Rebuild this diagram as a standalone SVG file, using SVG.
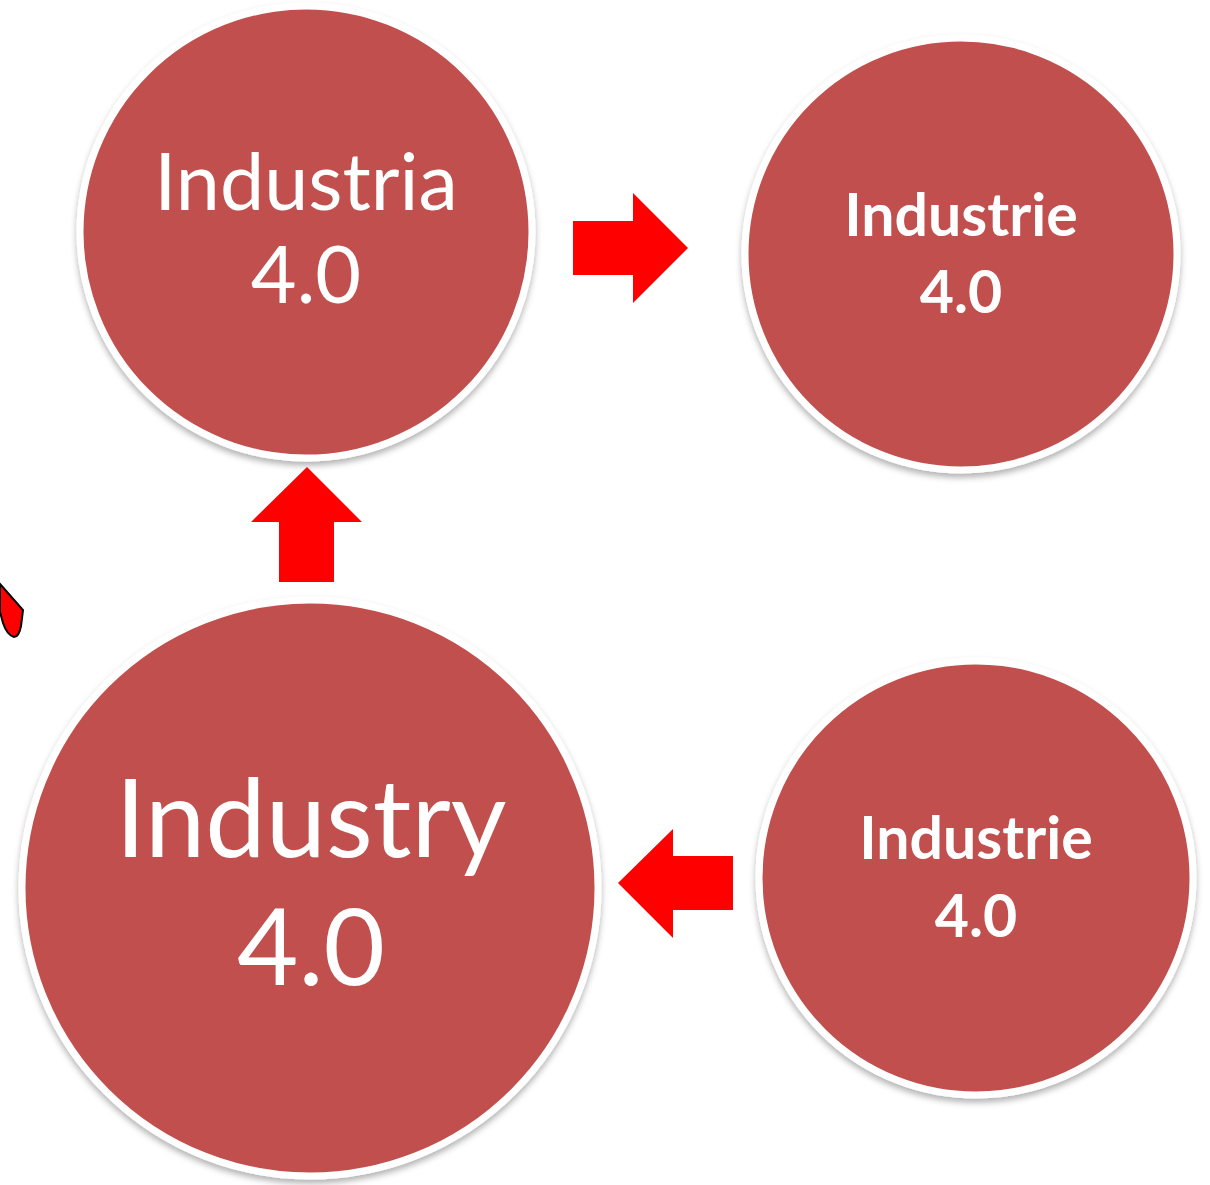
<svg xmlns="http://www.w3.org/2000/svg" width="1210" height="1185" viewBox="0 0 1210 1185">
<defs>
<filter id="sh" x="-10%" y="-10%" width="120%" height="125%">
<feDropShadow dx="0" dy="4" stdDeviation="3" flood-color="#000" flood-opacity="0.3"/>
</filter>
</defs>
<style>
.node{fill:#C0504D;stroke:#FFFFFF;stroke-width:7;filter:url(#sh)}
.arr{fill:#FF0000;stroke:none}
.t{fill:#FFFFFF;font-family:Lato,"Open Sans","Liberation Sans",sans-serif;text-anchor:middle}
.tb{font-weight:bold}
</style>
<rect width="1210" height="1185" fill="#FFFFFF"/>
<path d="M0,584 L23,610 L21,626 Q19,637 14,637 Q7,635 3,623 L0,612 Z" fill="#FF0000" stroke="#000" stroke-width="2"/>
<g id="n1">
<circle class="node" cx="306" cy="232" r="226"/>
<text class="t" x="306" y="210" font-size="79">Industria</text>
<text class="t" x="306" y="303" font-size="79">4.0</text>
</g>
<g id="n2">
<circle class="node" cx="961" cy="254" r="216"/>
<text class="t tb" x="961" y="236" font-size="59">Industrie</text>
<text class="t tb" x="961" y="313" font-size="59">4.0</text>
</g>
<g id="n3">
<circle class="node" cx="976" cy="878" r="217"/>
<text class="t tb" x="976" y="859" font-size="59">Industrie</text>
<text class="t tb" x="976" y="937" font-size="59">4.0</text>
</g>
<g id="n4">
<circle class="node" cx="310" cy="888" r="288"/>
<text class="t" x="311" y="857" font-size="108">Industry</text>
<text class="t" x="311" y="985" font-size="106">4.0</text>
</g>
<g id="connectors">
<polygon class="arr" points="573,221 633,221 633,193 688,248 633,303 633,275 573,275"/>
<polygon class="arr" points="279,582 279,522 251,522 307,467 362,522 334,522 334,582"/>
<polygon class="arr" points="733,856 673,856 673,829 618,883 673,938 673,910 733,910"/>
</g>
</svg>
